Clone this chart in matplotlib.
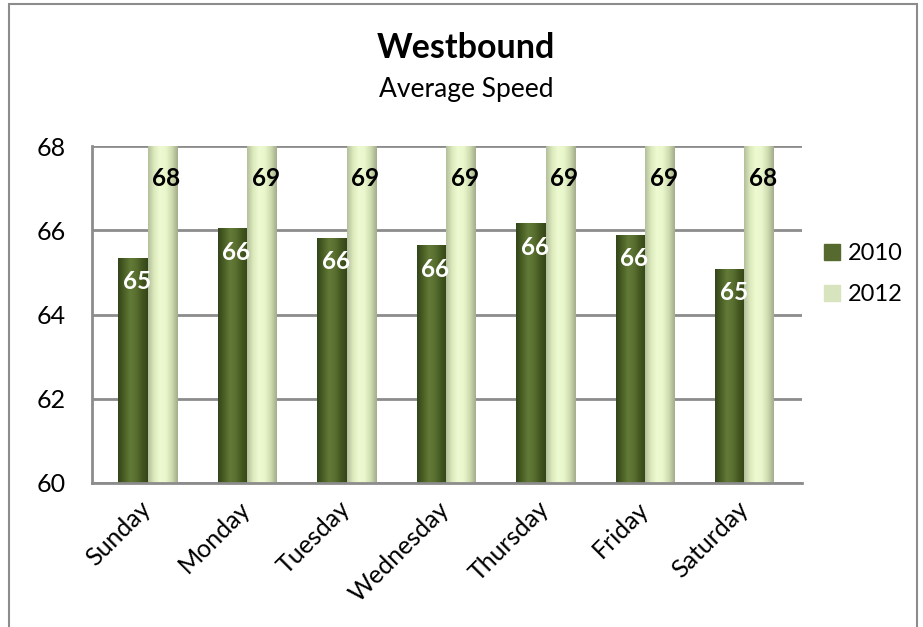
import matplotlib.pyplot as plt
import numpy as np
from matplotlib.colors import LinearSegmentedColormap
from matplotlib.patches import Rectangle

plt.rcParams['font.family'] = ['Lato', 'DejaVu Sans']

days = ['Sunday', 'Monday', 'Tuesday', 'Wednesday', 'Thursday', 'Friday', 'Saturday']
speed_2010 = [65.33, 66.03, 65.81, 65.63, 66.15, 65.87, 65.07]
speed_2012 = [68.4, 68.8, 68.9, 68.9, 68.8, 68.8, 68.3]
yticks = [60, 62, 64, 66, 68]

# cylinder-ish shading across each bar
dark_cmap = LinearSegmentedColormap.from_list(
    'dark', ['#33451a', '#4a5f25', '#627a37', '#5a7031', '#44581f', '#34461a'])
light_cmap = LinearSegmentedColormap.from_list(
    'light', ['#b4c09c', '#dceabc', '#eefbd2', '#e9f6cb', '#cfdcb0', '#a3ad8c'])

fig = plt.figure(figsize=(9.23, 6.27), dpi=100)
ax = fig.add_axes([92 / 923, 144 / 627, 710 / 923, 337 / 627])

ymin, ymax = 60, 68
x = np.arange(len(days))
w = 0.295
bars10 = ax.bar(x - w / 2, speed_2010, w, color='#4f6427', zorder=3)
bars12 = ax.bar(x + w / 2, speed_2012, w, color='#e4f2c6', zorder=3)

grad = np.linspace(0, 1, 64).reshape(1, -1)
for bars, cmap in ((bars10, dark_cmap), (bars12, light_cmap)):
    for b in bars:
        x0 = b.get_x()
        lo = max(b.get_y(), ymin)
        hi = min(b.get_y() + b.get_height(), ymax)
        ax.imshow(grad, cmap=cmap, aspect='auto', zorder=4,
                  extent=(x0, x0 + b.get_width(), lo, hi))

ax.set_xlim(-0.558, 6.578)
ax.set_ylim(ymin, ymax)
ax.set_yticks(yticks)
ax.set_yticklabels([str(t) for t in yticks])
ax.yaxis.grid(True, color='#8c8c8c', linewidth=2, zorder=0)
ax.set_axisbelow(True)
ax.tick_params(length=0, labelsize=18)
ax.tick_params(axis='y', pad=19)
ax.tick_params(axis='x', pad=16)
ax.set_xticks(x)
ax.set_xticklabels(days, rotation=45, ha='right', va='center', rotation_mode='anchor')

for s in ('top', 'right'):
    ax.spines[s].set_visible(False)
for s in ('left', 'bottom'):
    ax.spines[s].set_color('#8c8c8c')
    ax.spines[s].set_linewidth(2)
    ax.spines[s].set_zorder(5)

# value labels
for xi, v in zip(x, speed_2010):
    ax.text(xi - w / 2 + 0.04, v - 0.55, f'{v:.0f}', ha='center', va='center',
            color='white', fontsize=17.5, fontweight='bold', zorder=6)
for xi, v in zip(x, speed_2012):
    ax.text(xi + w / 2 + 0.04, 67.22, f'{v:.0f}', ha='center', va='center',
            color='black', fontsize=17.5, fontweight='bold', zorder=6)

fig.text(466 / 923, 1 - 48 / 627, 'Westbound', ha='center', va='center',
         fontsize=24.5, fontweight='bold')
fig.text(466 / 923, 1 - 89 / 627, 'Average Speed', ha='center', va='center', fontsize=19)

handles = [Rectangle((0, 0), 1, 1, color='#56692e'), Rectangle((0, 0), 1, 1, color='#d8e4bd')]
fig.legend(handles, ['2010', '2012'], loc='center left', bbox_to_anchor=(803 / 923, 1 - 274 / 627),
           frameon=False, fontsize=17, handlelength=0.65, handleheight=0.65,
           handletextpad=0.35, labelspacing=0.85)

# chart frame
fig.patches.append(Rectangle((9 / 923, -0.05), 908 / 923, 1.05 - 4 / 627,
                             transform=fig.transFigure, fill=False,
                             edgecolor='#8c8c8c', linewidth=1.5))

fig.savefig('out.png', dpi=100)
